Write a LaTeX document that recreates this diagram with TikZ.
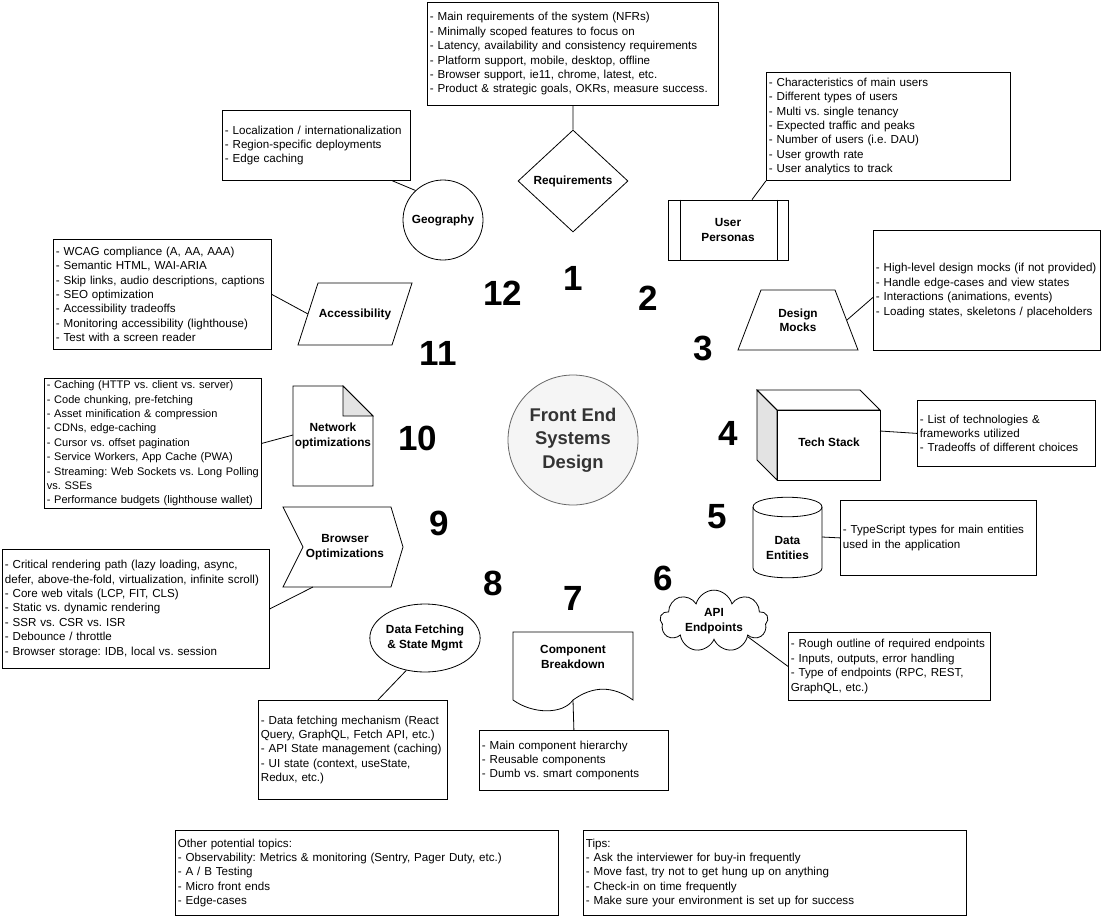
\documentclass[tikz,border=0pt]{standalone}
\usepackage{fontspec}
\setmainfont{Liberation Sans}
\usepackage{xcolor}
\definecolor{colHub}{HTML}{F5F5F5}
\definecolor{colHubLine}{HTML}{666666}
\definecolor{colHubText}{HTML}{333333}
\colorlet{colShade}{gray!22}
\usepackage{tikz}
\usetikzlibrary{shapes.geometric, shapes.symbols, calc}
\frenchspacing

\begin{document}
\begin{tikzpicture}[x=1pt, y=-1pt, line width=0.8pt,
		every node/.style={font=\fontsize{11.6}{14.4}\selectfont},
		notebox/.style 2 args={draw, rectangle, anchor=north west, align=left, inner xsep=2.5pt, inner ysep=0pt, minimum width=#1pt, minimum height=#2pt, text width=#1pt-5pt},
		topic/.style={font=\fontsize{11.8}{14.4}\selectfont\bfseries, align=center, inner sep=0pt},
		num/.style={font=\fontsize{35}{35}\selectfont\bfseries, inner sep=0pt}]
	\useasboundingbox (0,0) rectangle (1104,921);
	\node[circle, draw=colHubLine, fill=colHub, minimum size=130pt, inner sep=0pt, align=center, text=colHubText, font=\fontsize{18.4}{23.5}\selectfont\bfseries] (hub) at (573,440) {Front End\\Systems\\Design};
	\foreach \n/\x/\y in {1/573/278, 2/648/298, 3/703/348, 4/728/433, 5/717/517, 6/663/578, 7/573/598, 8/493/583, 9/439/523, 10/418/438, 11/438/353, 12/503/293}{
		\node[num] (n\n) at (\x,\y) {\n};
	}
	% 1
	\node[notebox={291}{103}] (reqbox) at (427,2) {- Main requirements of the system (NFRs)\\- Minimally scoped features to focus on\\- Latency, availability and consistency requirements\\- Platform support, mobile, desktop, offline\\- Browser support, ie11, chrome, latest, etc.\\- Product \& strategic goals, OKRs, measure success.};
	\node[diamond, draw, minimum width=110pt, minimum height=102pt, topic] (req) at (573,181) {Requirements};
	\draw (reqbox.south) -- (req.north);
	% 2
	\node[notebox={244}{108}] (perbox) at (766,72) {- Characteristics of main users\\- Different types of users\\- Multi vs. single tenancy\\- Expected traffic and peaks\\- Number of users (i.e. DAU)\\- User growth rate\\- User analytics to track};
	\node[draw, minimum width=120pt, minimum height=60pt, topic] (per) at (728,230) {User\\Personas};
	\draw ([xshift=13pt]per.north west) -- ([xshift=13pt]per.south west);
	\draw ([xshift=-11pt]per.north east) -- ([xshift=-11pt]per.south east);
	\draw (perbox.south west) -- ([xshift=24pt]per.north);
	% 3
	\node[notebox={227}{120}] (mockbox) at (873,230) {- High-level design mocks (if not provided)\\- Handle edge-cases and view states\\- Interactions (animations, events)\\- Loading states, skeletons / placeholders};
	\draw (738,350) -- (761,290) -- (835,290) -- (858,350) -- cycle;
	\node[topic] (mock) at (798,320) {Design\\Mocks};
	\coordinate (mock-e) at (847,320);
	\draw ([yshift=-7pt]mockbox.west) -- (mock-e);
	% 4
	\node[notebox={178}{66}] (techbox) at (917,400) {- List of technologies \&\\frameworks utilized\\- Tradeoffs of different choices};
	\draw[fill=colShade] (757,390) -- (777,410) -- (777,480) -- (757,460) -- cycle;
	\draw (757,390) -- (860,390) -- (880,410) -- (777,410) -- cycle;
	\draw (777,410) rectangle (880,480);
	\node[topic] (tech) at (829,442) {Tech Stack};
	\coordinate (tech-e) at (880,431);
	\draw (tech-e) -- (techbox.west);
	% 5
	\node[notebox={196}{75}] (entbox) at (840,500) {- TypeScript types for main entities\\used in the application};
	\draw (753,507) .. controls (753,494) and (822,494) .. (822,507) -- (822,568) .. controls (822,581) and (753,581) .. (753,568) -- cycle;
	\draw (753,507) .. controls (753,520) and (822,520) .. (822,507);
	\node[topic] (ent) at (787.5,548) {Data\\Entities};
	\coordinate (ent-e) at (822,537);
	\draw (ent-e) -- (entbox.west);
	% 6
	\node[notebox={202}{68}] (apibox) at (788,632) {- Rough outline of required endpoints\\- Inputs, outputs, error handling\\- Type of endpoints (RPC, REST,\\GraphQL, etc.)};
	\node[cloud, draw, cloud puffs=9, aspect=1.9, minimum width=108pt, minimum height=58pt, topic] (api) at (714,621) {API\\Endpoints};
	\draw (api.-25) -- (apibox.west);
	% 7
	\node[notebox={189}{60}] (compbox) at (479,730) {- Main component hierarchy\\- Reusable components\\- Dumb vs. smart components};
	\draw (513,632) -- (633,632) -- (633,700) .. controls (613,685.6) and (593,685.6) .. (573,700) .. controls (563,714.4) and (533,714.4) .. (513,700) -- cycle;
	\node[topic] (comp) at (573,657) {Component\\Breakdown};
	\coordinate (comp-s) at (573,700);
	\draw (comp-s) -- (compbox.north);
	% 8
	\node[notebox={189}{99}] (fetchbox) at (258,700) {- Data fetching mechanism (React\\Query, GraphQL, Fetch API, etc.)\\- API State management (caching)\\- UI state (context, useState,\\Redux, etc.)};
	\node[ellipse, draw, minimum width=102pt, minimum height=68pt, topic] (fetch) at (425,638) {Data Fetching\\\& State Mgmt};
	\draw (fetch.-120) -- ([xshift=25pt]fetchbox.north);
	% 9
	\node[notebox={267}{119}] (browbox) at (2,549) {- Critical rendering path (lazy loading, async,\\defer, above-the-fold, virtualization, infinite scroll)\\- Core web vitals (LCP, FIT, CLS)\\- Static vs. dynamic rendering\\- SSR vs. CSR vs. ISR\\- Debounce / throttle\\- Browser storage: IDB, local vs. session};
	\draw (283,507) -- (391,507) -- (403,547) -- (391,587) -- (283,587) -- (303,547) -- cycle;
	\node[topic] (brow) at (345,547) {Browser\\Optimizations};
	\coordinate (brow-s) at (313,587);
	\draw (browbox.east) -- (brow-s);
	% 10
	\node[notebox={217}{130}, font=\fontsize{11}{14.4}\selectfont] (netbox) at (44,378) {- Caching (HTTP vs. client vs. server)\\- Code chunking, pre-fetching\\- Asset minification \& compression\\- CDNs, edge-caching\\- Cursor vs. offset pagination\\- Service Workers, App Cache (PWA)\\- Streaming: Web Sockets vs. Long Polling\\vs. SSEs\\- Performance budgets (lighthouse wallet)};
	\draw (293,386) -- (343,386) -- (373,416) -- (373,486) -- (293,486) -- cycle;
	\draw[fill=colShade] (343,386) -- (343,416) -- (373,416) -- cycle;
	\node[topic] (net) at (333,436) {Network\\optimizations};
	\coordinate (net-w) at (293,435);
	\draw (netbox.east) -- (net-w);
	% 11
	\node[notebox={218}{110}] (accbox) at (53,239) {- WCAG compliance (A, AA, AAA)\\- Semantic HTML, WAI-ARIA\\- Skip links, audio descriptions, captions\\- SEO optimization\\- Accessibility tradeoffs\\- Monitoring accessibility (lighthouse)\\- Test with a screen reader};
	\draw (318,283) -- (412,283) -- (392,345) -- (298,345) -- cycle;
	\node[topic] (acc) at (355,314) {Accessibility};
	\coordinate (acc-w) at (308,314);
	\draw (accbox.east) -- (acc-w);
	% 12
	\node[notebox={188}{70}] (geobox) at (222,110) {- Localization / internationalization\\- Region-specific deployments\\- Edge caching};
	\node[circle, draw, minimum size=80pt, topic] (geo) at (443,220) {Geography};
	\draw ([xshift=76pt]geobox.south) -- (geo.133);
	% extras
	\node[notebox={383}{85}] (other) at (175,830) {Other potential topics:\\- Observability: Metrics \& monitoring (Sentry, Pager Duty, etc.)\\- A / B Testing\\- Micro front ends\\- Edge-cases};
	\node[notebox={383}{85}] (tips) at (583,830) {Tips:\\- Ask the interviewer for buy-in frequently\\- Move fast, try not to get hung up on anything\\- Check-in on time frequently\\- Make sure your environment is set up for success};
\end{tikzpicture}
\end{document}
